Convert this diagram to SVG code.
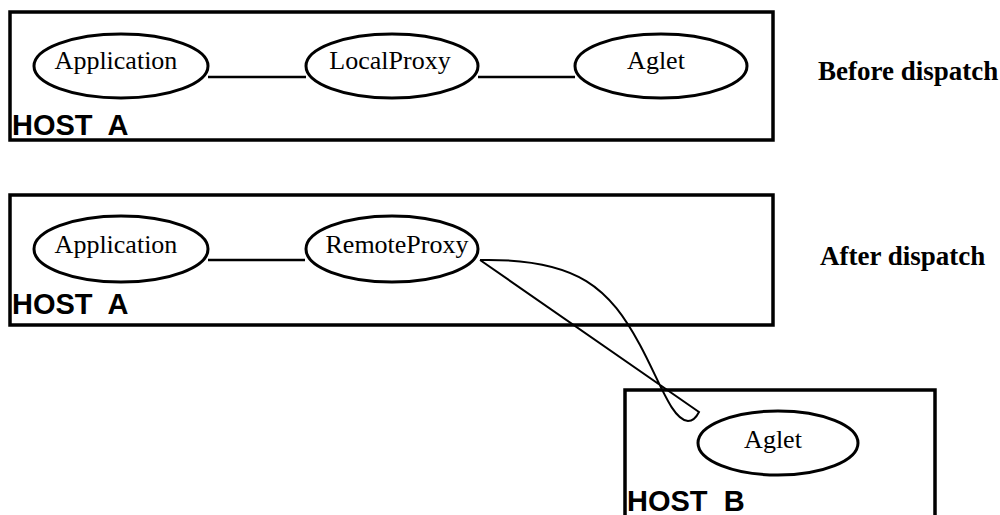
<svg xmlns="http://www.w3.org/2000/svg" width="1000" height="515" viewBox="0 0 1000 515">
<style>
.box{fill:none;stroke:#000;stroke-width:3.5}
.ell{fill:#fff;stroke:#000;stroke-width:3}
.lbl{font-family:"Liberation Serif","Times New Roman",serif;font-size:26px;text-anchor:middle;fill:#000}
.host{font-family:"Liberation Sans",Arial,sans-serif;font-size:29px;font-weight:bold;fill:#000;white-space:pre}
.cap{font-family:"Liberation Serif","Times New Roman",serif;font-size:27px;font-weight:bold;fill:#000}
.con{fill:none;stroke:#000;stroke-width:2.5}
.wire{fill:none;stroke:#000;stroke-width:2}
</style>
<g id="hostA1">
<rect class="box" x="10" y="12" width="763" height="128"/>
<text class="host" x="12" y="135" xml:space="preserve">HOST  A</text>
</g>
<g id="hostA2">
<rect class="box" x="10" y="195" width="763" height="130"/>
<text class="host" x="12" y="314" xml:space="preserve">HOST  A</text>
</g>
<g id="hostB">
<path class="box" d="M625,530 V390 H935 V530"/>
<text class="host" x="627" y="511" xml:space="preserve">HOST  B</text>
</g>
<g id="connectors">
<line class="con" x1="208" y1="77" x2="306" y2="77"/>
<line class="con" x1="478" y1="77" x2="575" y2="77"/>
<line class="con" x1="208" y1="260" x2="305" y2="260"/>
<path class="wire" d="M480,260 C580,258 610,290 640,345 C660,382 672,420 688,421 C694,421 697,416 699,412 L480,260"/>
</g>
<g id="app1"><ellipse class="ell" cx="121" cy="66" rx="87" ry="32"/><text class="lbl" x="116" y="69">Application</text></g>
<g id="localproxy"><ellipse class="ell" cx="392" cy="66" rx="86" ry="32"/><text class="lbl" x="390" y="69">LocalProxy</text></g>
<g id="aglet1"><ellipse class="ell" cx="661" cy="66" rx="86" ry="32"/><text class="lbl" x="656" y="69">Aglet</text></g>
<g id="app2"><ellipse class="ell" cx="121" cy="249" rx="87" ry="33"/><text class="lbl" x="116" y="253">Application</text></g>
<g id="remoteproxy"><ellipse class="ell" cx="392" cy="249" rx="86" ry="33"/><text class="lbl" x="397" y="253">RemoteProxy</text></g>
<g id="aglet2"><ellipse class="ell" cx="778" cy="443" rx="80" ry="32"/><text class="lbl" x="773" y="448">Aglet</text></g>
<g id="captions">
<text class="cap" x="818" y="80">Before dispatch</text>
<text class="cap" x="820" y="265">After dispatch</text>
</g>
</svg>
